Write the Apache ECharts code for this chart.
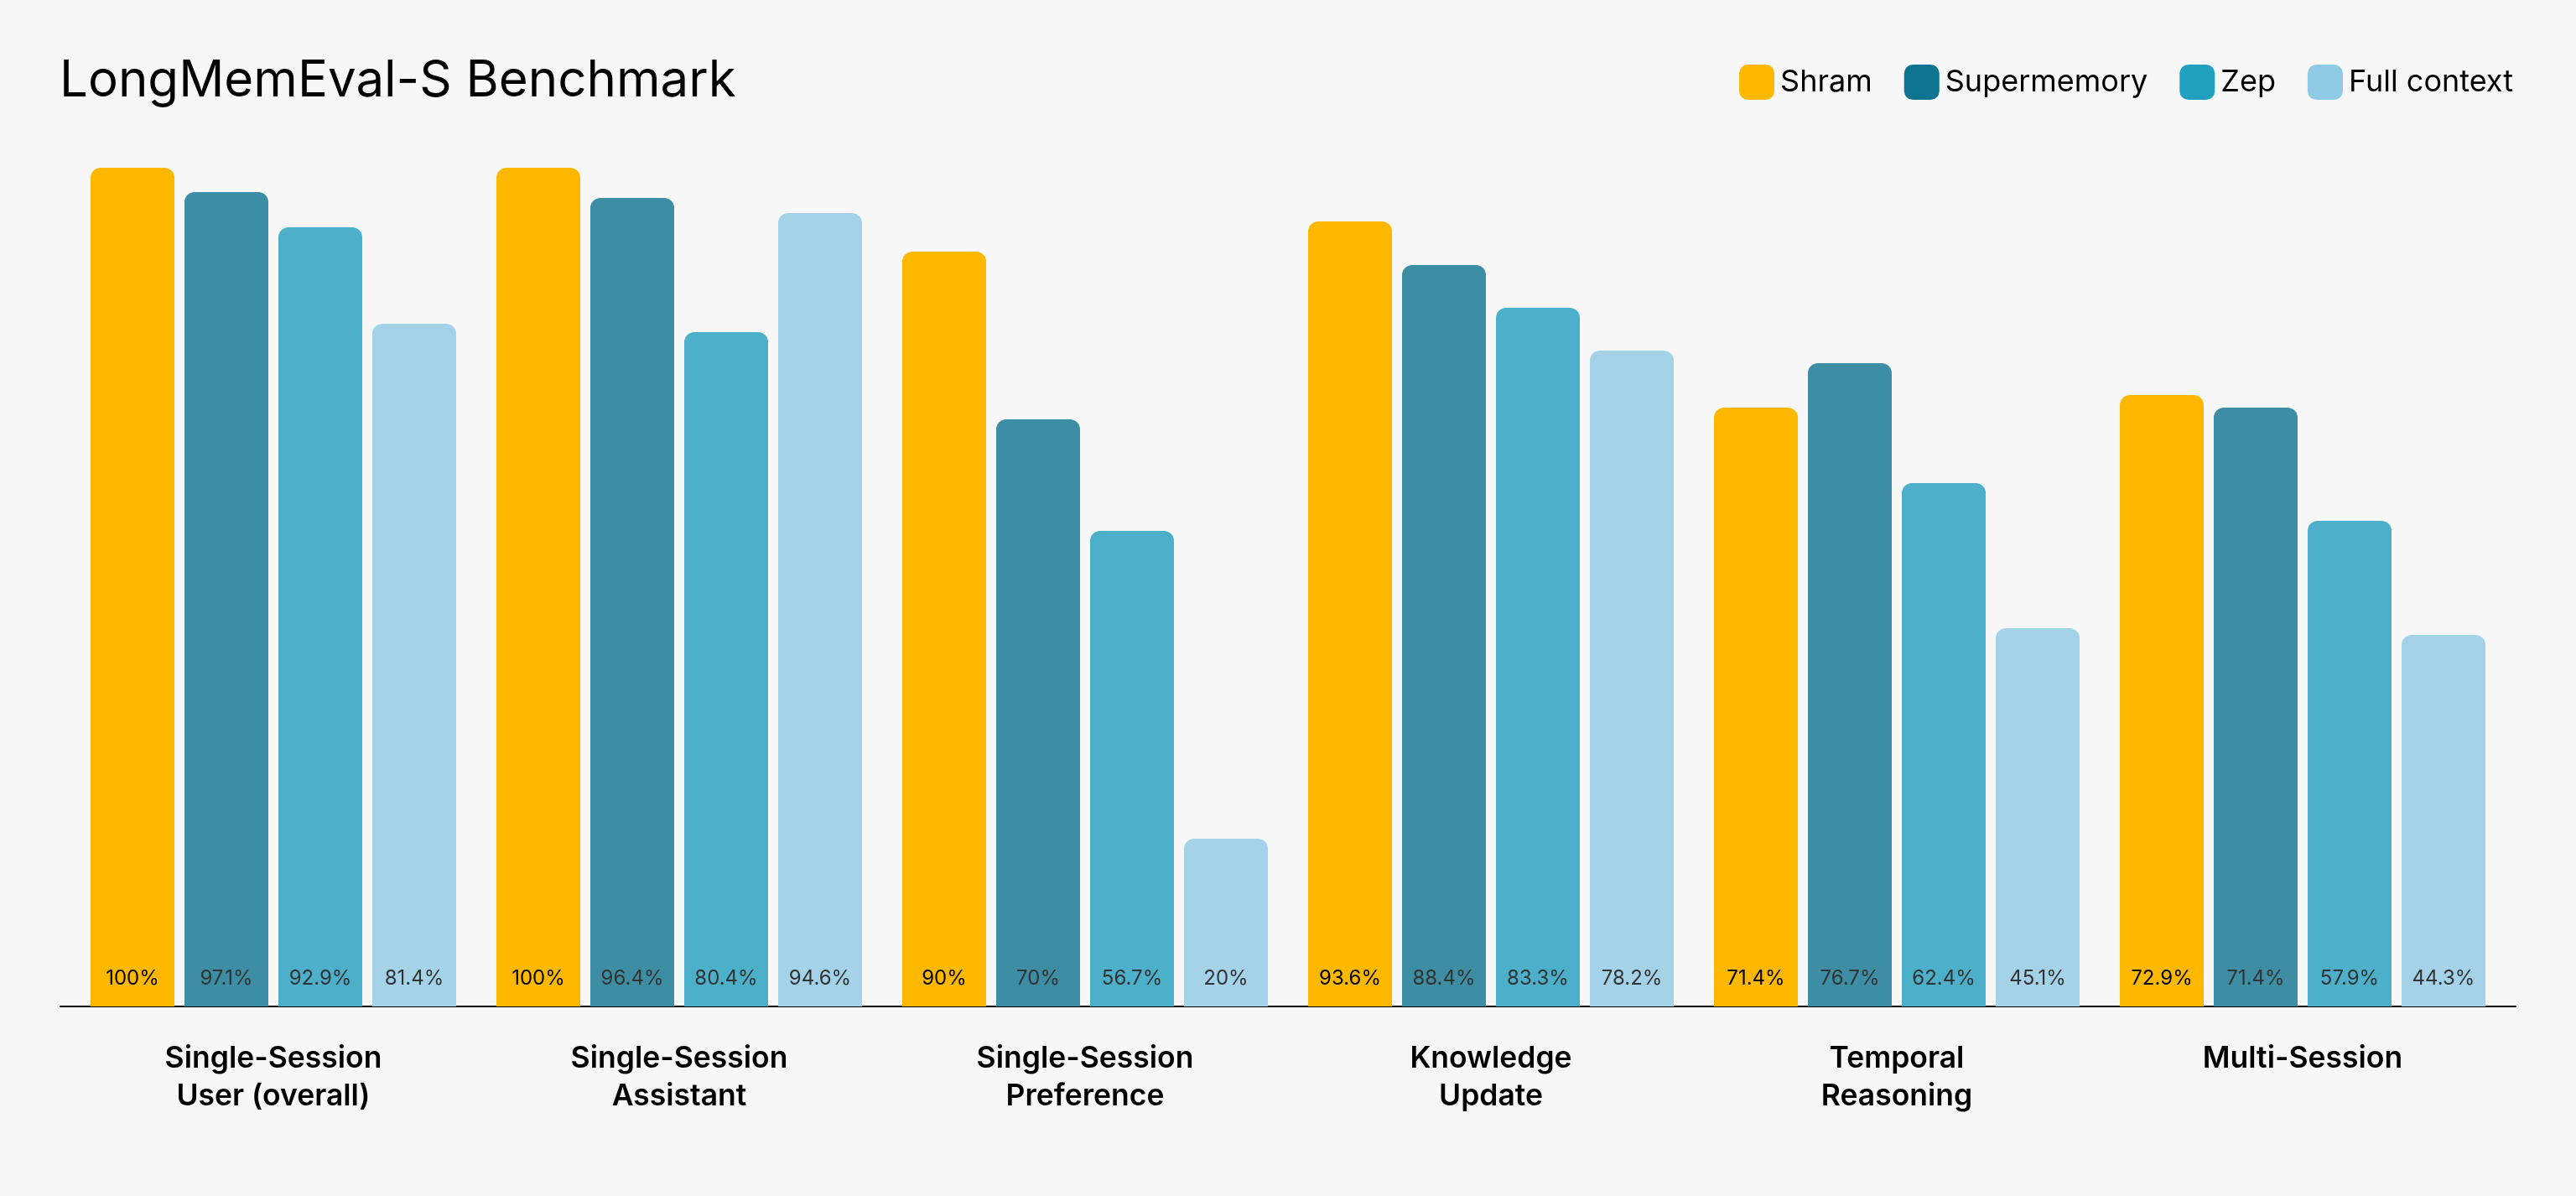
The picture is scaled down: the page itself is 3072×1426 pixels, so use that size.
<!DOCTYPE html>
<html>
<head>
<meta charset="utf-8">
<title>LongMemEval-S Benchmark</title>
<script src="https://cdn.jsdelivr.net/npm/echarts@6/dist/echarts.min.js"></script>
<style>
  html, body { margin: 0; padding: 0; background: #f7f7f7; }
  #main { width: 3072px; height: 1426px; }
</style>
</head>
<body>
<div id="main"></div>
<script>
// categories on the x axis (line breaks as in the picture)
var categories = [
    'Single-Session\nUser (overall)',
    'Single-Session\nAssistant',
    'Single-Session\nPreference',
    'Knowledge\nUpdate',
    'Temporal\nReasoning',
    'Multi-Session'
];
// scores in %
var shramData = [100, 100, 90, 93.6, 71.4, 72.9];
var supermemoryData = [97.1, 96.4, 70, 88.4, 76.7, 71.4];
var zepData = [92.9, 80.4, 56.7, 83.3, 62.4, 57.9];
var fullContextData = [81.4, 94.6, 20, 78.2, 45.1, 44.3];

var seriesNames = ['Shram', 'Supermemory', 'Zep', 'Full context'];
var legendColors = ['#ffb800', '#0e7490', '#22a0c0', '#8ecae6'];
var barColors = ['#ffb800', '#3d8ea5', '#4cb0ca', '#a4d3e9'];
var labelColors = ['#000000', '#333333', '#333333', '#333333'];
var allData = [shramData, supermemoryData, zepData, fullContextData];

var FONT = 'Inter, "Noto Sans", sans-serif';

function makeSeries(i) {
    return {
        name: seriesNames[i],
        type: 'bar',
        xAxisIndex: 0,
        yAxisIndex: 0,
        barWidth: 100,
        barGap: '12%',
        data: allData[i],
        itemStyle: {
            color: barColors[i],
            borderRadius: [12, 12, 0, 0]
        },
        label: {
            show: true,
            position: 'insideBottom',
            distance: 20,
            formatter: '{c}%',
            color: labelColors[i],
            fontFamily: FONT,
            fontSize: 24,
            lineHeight: 26
        },
        emphasis: { disabled: true }
    };
}

var myChart = echarts.init(document.getElementById('main'));
var option = {
    backgroundColor: '#f7f7f7',
    animation: false,
    title: {
        text: 'LongMemEval-S Benchmark',
        left: 66,
        top: 62,
        textStyle: {
            fontFamily: FONT,
            fontSize: 60,
            fontWeight: 'normal',
            color: '#000000'
        }
    },
    legend: {
        right: 70,
        top: 72,
        itemWidth: 42,
        itemHeight: 42,
        itemGap: 38,
        icon: 'roundRect',
        textStyle: {
            fontFamily: FONT,
            fontSize: 36,
            color: '#000000',
            padding: [0, 0, 0, 2]
        },
        data: seriesNames.map(function (n, i) {
            return { name: n, itemStyle: { color: legendColors[i], opacity: 1 } };
        })
    },
    grid: [
        { left: 84, right: 84, top: 200, bottom: 226 },
        { left: 72, right: 72, top: 200, bottom: 226 }
    ],
    xAxis: [
        {
            type: 'category',
            gridIndex: 0,
            data: categories,
            axisLine: { show: false },
            axisTick: { show: false },
            axisLabel: {
                margin: 40,
                fontFamily: FONT,
                fontSize: 35.5,
                fontWeight: 600,
                lineHeight: 45,
                color: '#000000'
            }
        },
        {
            // baseline only, slightly wider than the bar area
            type: 'value',
            gridIndex: 1,
            min: 0,
            max: 1,
            axisLine: { show: true, lineStyle: { color: '#000000', width: 2 } },
            axisTick: { show: false },
            axisLabel: { show: false },
            splitLine: { show: false }
        }
    ],
    yAxis: [
        {
            type: 'value',
            gridIndex: 0,
            min: 0,
            max: 100,
            show: false
        },
        {
            type: 'value',
            gridIndex: 1,
            min: 0,
            max: 1,
            show: false
        }
    ],
    series: [makeSeries(0), makeSeries(1), makeSeries(2), makeSeries(3)]
};
myChart.setOption(option);
</script>
</body>
</html>
